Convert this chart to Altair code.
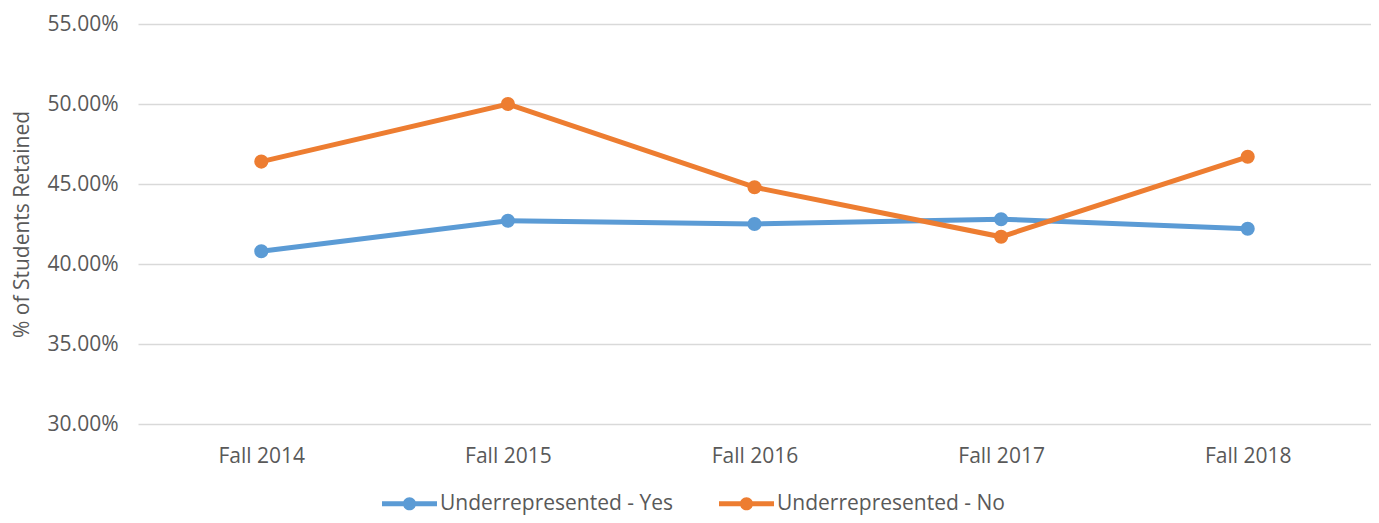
import altair as alt
import pandas as pd

categories = ["Fall 2014", "Fall 2015", "Fall 2016", "Fall 2017", "Fall 2018"]
series_names = ["Underrepresented - Yes", "Underrepresented - No"]
yes_values = [40.8, 42.7, 42.5, 42.8, 42.2]
no_values = [46.4, 50.0, 44.8, 41.7, 46.7]
y_ticks = [0.30, 0.35, 0.40, 0.45, 0.50, 0.55]
colors = ["#5B9BD5", "#ED7D31"]

rows = []
for name, vals in zip(series_names, [yes_values, no_values]):
    for c, v in zip(categories, vals):
        rows.append({"term": c, "series": name, "value": v / 100})
df = pd.DataFrame(rows)

FONT = "Open Sans"
TXT = "#595959"

legend_symbol = (
    "M-1,-0.09H1V0.09H-1Z "
    "M-0.24,0A0.24,0.24 0 1,1 0.24,0A0.24,0.24 0 1,1 -0.24,0Z"
)

x = alt.X("term:N", sort=categories, title=None,
          scale=alt.Scale(type="point", padding=0.5),
          axis=alt.Axis(labelAngle=0, domain=False, ticks=False, labelPadding=21,
                        labelFontSize=21, labelColor=TXT, labelFont=FONT))
y = alt.Y("value:Q", title="% of Students Retained",
          scale=alt.Scale(domain=[0.30, 0.55], nice=False, zero=False),
          axis=alt.Axis(values=y_ticks, format=".2%", domain=False, ticks=False,
                        labelPadding=20, labelFontSize=21, labelColor=TXT, labelFont=FONT,
                        titleFontSize=21, titleColor=TXT, titleFont=FONT, titleFontWeight="normal",
                        titlePadding=15, gridColor="#D9D9D9", gridWidth=1.3))
color_scale = alt.Scale(domain=series_names, range=colors)

lines = alt.Chart(df).mark_line(strokeWidth=5).encode(
    x=x, y=y, color=alt.Color("series:N", scale=color_scale, legend=None),
    detail="series:N")

points = alt.Chart(df).mark_point(filled=True, size=200, opacity=1).encode(
    x=x, y=y,
    color=alt.Color("series:N", scale=color_scale, sort=series_names,
                    legend=alt.Legend(title=None, orient="none", direction="horizontal",
                                      legendX=244, legendY=452,
                                      symbolType=legend_symbol, symbolSize=3025,
                                      symbolOpacity=1, symbolStrokeWidth=0,
                                      labelFontSize=21, labelColor=TXT, labelFont=FONT,
                                      labelLimit=500,
                                      labelOffset=3, columnPadding=45)))

chart = alt.layer(lines, points).resolve_legend(color="independent").properties(
    width=1233, height=400,
    autosize=alt.AutoSizeParams(type="none"),
    padding={"left": 130, "top": 16, "right": 0, "bottom": 91},
).configure(font=FONT).configure_view(stroke=None)

chart.save("out.html", embed_options={"renderer": "svg", "actions": False})
